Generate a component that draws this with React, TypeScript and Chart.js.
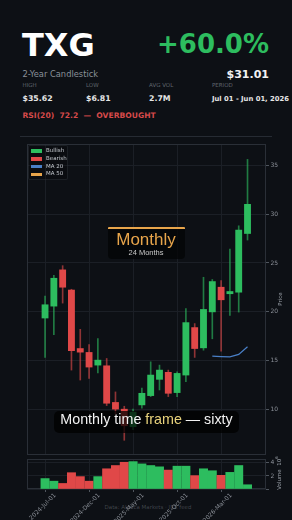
import React, { useEffect, useRef } from 'react';
import { Chart, registerables } from 'chart.js';

Chart.register(...registerables);

// ---------- data ----------
const MONTHS = [
  '2024-Jul-01', '2024-Aug-01', '2024-Sep-01', '2024-Oct-01', '2024-Nov-01', '2024-Dec-01',
  '2025-Jan-01', '2025-Feb-01', '2025-Mar-01', '2025-Apr-01', '2025-May-01', '2025-Jun-01',
  '2025-Jul-01', '2025-Aug-01', '2025-Sep-01', '2025-Oct-01', '2025-Nov-01', '2025-Dec-01',
  '2026-Jan-01', '2026-Feb-01', '2026-Mar-01', '2026-Apr-01', '2026-May-01', '2026-Jun-01',
];
const OPEN = [19.35, 20.57, 24.29, 22.22, 16.22, 15.82, 14.52, 14.45, 10.69, 10.0, 8.2, 10.44,
  11.39, 13.06, 13.78, 11.7, 13.5, 18.37, 16.29, 19.98, 22.51, 21.84, 22.0, 28.02];
const CLOSE = [20.71, 23.43, 22.51, 16.0, 15.85, 14.32, 15.03, 10.61, 10.01, 8.3, 9.7, 11.63,
  13.5, 14.01, 11.63, 13.67, 18.88, 16.22, 20.23, 23.09, 21.22, 22.07, 28.37, 31.01];
const HIGH = [21.59, 23.73, 24.72, 22.3, 18.19, 16.63, 17.24, 15.2, 11.77, 10.3, 10.0, 12.17,
  14.86, 14.52, 14.01, 13.84, 20.31, 18.78, 23.53, 23.3, 23.19, 26.43, 28.81, 35.62];
const LOW = [15.31, 17.65, 20.88, 14.01, 12.99, 13.16, 13.73, 10.37, 9.5, 6.81, 7.9, 10.1,
  11.29, 11.97, 11.29, 11.29, 12.82, 15.31, 16.05, 17.22, 15.95, 19.62, 19.96, 27.35];
const VOLUME_M = [1.6, 1.2, 0.85, 2.5, 1.9, 1.2, 1.9, 3.1, 3.6, 4.1, 4.2, 3.85,
  3.6, 3.4, 2.9, 3.5, 3.5, 2.05, 3.1, 2.8, 2.1, 2.55, 3.6, 0.65];
const MA20_START = 19;
const MA20 = [15.44, 15.4, 15.36, 15.62, 16.41];
const PRICE_TICKS = [10, 15, 20, 25, 30, 35];
const VOLUME_TICKS = [0, 2, 4];
const X_TICKS = [0, 5, 10, 15, 20];
const STAT_LABELS = ['HIGH', 'LOW', 'AVG VOL', 'PERIOD'];
const STAT_VALUES = ['$35.62', '$6.81', '2.7M', 'Jul 01 - Jun 01, 2026'];
const LEGEND_LABELS = ['Bullish', 'Bearish', 'MA 20', 'MA 50'];

// ---------- styles ----------
const BG = '#0d1015';
const GREEN = '#2dbd5f';
const RED = '#e04848';
const GREEN_WICK = 'rgba(45,189,95,0.62)';
const RED_WICK = 'rgba(224,72,72,0.62)';
const BLUE = '#4a80c8';
const ORANGE = '#e8a54b';
const GRID = '#1b1f26';
const FRAME = '#2a2f37';
const TICKMARK = '#50565e';
const TICKTEXT = '#8b9098';
const LEGEND_COLORS = [GREEN, RED, BLUE, ORANGE];
const STAT_X = [22.5, 86, 149, 212];
const STAT_VALUE_SIZE = [7.8, 7.8, 7.8, 6.8];

const X_MIN = -2.05;
const X_MAX = 25.1;

const framePlugin = {
  id: 'frame',
  beforeDatasetsDraw(chart: any) {
    const { ctx, chartArea: a } = chart;
    ctx.save();
    ctx.strokeStyle = FRAME;
    ctx.lineWidth = 1;
    const l = Math.round(a.left) + 0.5;
    const t = Math.round(a.top) + 0.5;
    const r = Math.round(a.right) - 0.5;
    const b = Math.round(a.bottom) - 0.5;
    ctx.strokeRect(l, t, r - l, b - t);
    ctx.restore();
  },
};

const up = (i: number) => CLOSE[i] >= OPEN[i];

function xScale(extra: any): any {
  return {
    type: 'linear',
    offset: false,
    min: X_MIN,
    max: X_MAX,
    afterBuildTicks: (s: any) => { s.ticks = X_TICKS.map((v) => ({ value: v })); },
    grid: { color: GRID, offset: false, tickLength: 3, tickColor: TICKMARK },
    border: { display: false },
    ...extra,
  };
}

function priceConfig(): any {
  const idx = OPEN.map((_, i) => i);
  return {
    type: 'bar',
    data: {
      datasets: [
        {
          type: 'line',
          label: 'MA 20',
          data: MA20.map((v, k) => ({ x: MA20_START + k, y: v })),
          borderColor: BLUE,
          borderWidth: 1.2,
          pointRadius: 0,
          tension: 0,
          order: 0,
        },
        {
          label: 'Body',
          data: idx.map((i) => ({ x: i, y: [OPEN[i], CLOSE[i]] })),
          backgroundColor: idx.map((i) => (up(i) ? GREEN : RED)),
          borderWidth: 0,
          borderSkipped: false,
          barThickness: 6.2,
          grouped: false,
          order: 1,
        },
        {
          label: 'Wick',
          data: idx.map((i) => ({ x: i, y: [LOW[i], HIGH[i]] })),
          backgroundColor: idx.map((i) => (up(i) ? GREEN_WICK : RED_WICK)),
          borderWidth: 0,
          borderSkipped: false,
          barThickness: 1,
          grouped: false,
          order: 2,
        },
      ],
    },
    options: {
      animation: false,
      responsive: false,
      devicePixelRatio: 1,
      layout: { padding: { left: 27, right: 6, top: 6, bottom: 3 } },
      plugins: { legend: { display: false }, tooltip: { enabled: false } },
      scales: {
        x: xScale({
          afterFit: (s: any) => { s.height = 0; s.paddingLeft = 0; s.paddingRight = 0; },
          ticks: { display: false },
          grid: { color: GRID, offset: false, drawTicks: false },
        }),
        y: {
          position: 'right',
          min: 5.3,
          max: 37.2,
          afterBuildTicks: (s: any) => { s.ticks = PRICE_TICKS.map((v) => ({ value: v })); },
          afterFit: (s: any) => { s.width = 20; s.paddingTop = 0; s.paddingBottom = 0; },
          ticks: { color: TICKTEXT, font: { size: 6, family: 'DejaVu Sans' }, padding: 1.5 },
          grid: { color: GRID, tickLength: 3, tickColor: TICKMARK },
          border: { display: false },
        },
      },
    },
    plugins: [framePlugin],
  };
}

function volumeConfig(): any {
  const idx = VOLUME_M.map((_, i) => i);
  return {
    type: 'bar',
    data: {
      datasets: [
        {
          label: 'Volume',
          data: idx.map((i) => ({ x: i, y: VOLUME_M[i] })),
          backgroundColor: idx.map((i) => (up(i) ? GREEN : RED)),
          borderWidth: 0,
          barThickness: 8.3,
        },
      ],
    },
    options: {
      animation: false,
      responsive: false,
      devicePixelRatio: 1,
      layout: { padding: { left: 27, right: 6, top: 3, bottom: 0 } },
      plugins: { legend: { display: false }, tooltip: { enabled: false } },
      scales: {
        x: xScale({
          afterFit: (s: any) => { s.height = 31; s.paddingLeft = 0; s.paddingRight = 0; },
          ticks: {
            autoSkip: false,
            minRotation: 45,
            maxRotation: 45,
            labelOffset: 10,
            padding: 0,
            color: TICKTEXT,
            font: { size: 6, family: 'DejaVu Sans' },
            callback: (v: number) => MONTHS[v] ?? '',
          },
        }),
        y: {
          position: 'right',
          min: 0,
          max: 4.6,
          afterBuildTicks: (s: any) => { s.ticks = VOLUME_TICKS.map((v) => ({ value: v })); },
          afterFit: (s: any) => { s.width = 20; s.paddingTop = 0; s.paddingBottom = 0; },
          ticks: {
            color: TICKTEXT,
            font: { size: 6, family: 'DejaVu Sans' },
            padding: 1.5,
            callback: (v: number) => (v === 0 ? '' : String(v)),
          },
          grid: { color: GRID, tickLength: 3, tickColor: TICKMARK },
          border: { display: false },
        },
      },
    },
    plugins: [framePlugin],
  };
}

const abs = (s: React.CSSProperties): React.CSSProperties => ({
  position: 'absolute',
  whiteSpace: 'pre',
  lineHeight: 1,
  margin: 0,
  ...s,
});

export default function App() {
  const priceRef = useRef<HTMLCanvasElement>(null);
  const volRef = useRef<HTMLCanvasElement>(null);

  useEffect(() => {
    document.body.style.margin = '0';
    document.body.style.background = BG;
    const pc = new Chart(priceRef.current as HTMLCanvasElement, priceConfig());
    const vc = new Chart(volRef.current as HTMLCanvasElement, volumeConfig());
    return () => {
      pc.destroy();
      vc.destroy();
    };
  }, []);

  const sans = 'DejaVu Sans';
  const arial = '"Liberation Sans", Arial, sans-serif';

  return (
    <div
      style={{
        position: 'fixed',
        left: 0,
        top: 0,
        width: 292,
        height: 520,
        overflow: 'hidden',
        background: BG,
        fontFamily: sans,
      }}
    >
      {/* header */}
      <div style={abs({ left: 22, top: 29, fontSize: 32, fontWeight: 700, color: '#ffffff' })}>TXG</div>
      <div style={abs({ right: 23, top: 30.5, fontSize: 26, fontWeight: 700, color: GREEN })}>+60.0%</div>
      <div style={abs({ left: 22.5, top: 70, fontSize: 8.3, color: '#8a9099' })}>2-Year Candlestick</div>
      <div style={abs({ right: 23, top: 69, fontSize: 11, fontWeight: 700, color: '#f2f2f2' })}>$31.01</div>
      {STAT_LABELS.map((t, i) => (
        <div key={t} style={abs({ left: STAT_X[i], top: 82.6, fontSize: 5.5, color: '#60666e' })}>{t}</div>
      ))}
      {STAT_VALUES.map((t, i) => (
        <div
          key={t}
          style={abs({
            left: STAT_X[i],
            top: 101.7 - 0.846 * STAT_VALUE_SIZE[i],
            fontSize: STAT_VALUE_SIZE[i],
            fontWeight: 700,
            color: '#e6e6e6',
          })}
        >
          {t}
        </div>
      ))}
      <div style={abs({ left: 22.5, top: 112.4, fontSize: 7.6, fontWeight: 700, color: '#d64a4a' })}>
        {'RSI(20)  72.2  —  OVERBOUGHT'}
      </div>
      <div style={{ position: 'absolute', left: 20, top: 136, width: 252, height: 1, background: '#262b33' }} />

      {/* footer (behind volume chart) */}
      <div
        style={abs({
          left: 0,
          width: 292,
          textAlign: 'center',
          top: 505,
          fontSize: 5.5,
          color: 'rgba(130,136,144,0.45)',
          paddingLeft: 2,
        })}
      >
        Data: Alpaca Markets · IEX feed
      </div>

      {/* charts */}
      <canvas ref={priceRef} width={292} height={320} style={{ position: 'absolute', left: 0, top: 138, width: 292, height: 320 }} />
      <canvas ref={volRef} width={292} height={64} style={{ position: 'absolute', left: 0, top: 456, width: 292, height: 64 }} />

      {/* axis titles */}
      <div style={abs({ left: 281, top: 299, fontSize: 5.5, color: '#9aa0a8', transform: 'translate(-50%,-50%) rotate(-90deg)' })}>Price</div>
      <div style={abs({ left: 278.5, top: 473, fontSize: 5.5, color: '#9aa0a8', transform: 'translate(-50%,-50%) rotate(-90deg)' })}>
        {'Volume  10'}
        <sup style={{ fontSize: 4, verticalAlign: 'super' }}>6</sup>
      </div>

      {/* legend */}
      <div
        style={{
          position: 'absolute',
          left: 28,
          top: 145,
          width: 40,
          height: 35,
          background: 'rgba(0,0,0,0.22)',
          border: '1px solid rgba(60,66,74,0.35)',
          borderRadius: 2,
          boxSizing: 'border-box',
        }}
      />
      {LEGEND_LABELS.map((t, i) => {
        const cy = [151, 158.8, 166.6, 174.3][i];
        return (
          <React.Fragment key={t}>
            <div style={{ position: 'absolute', left: 30.7, top: cy - 1.8, width: 11.3, height: 3.6, background: LEGEND_COLORS[i] }} />
            <div style={abs({ left: 46, top: cy - 2.9, fontSize: 5.5, color: '#c5c9cf' })}>{t}</div>
          </React.Fragment>
        );
      })}

      {/* Monthly badge */}
      <div
        style={{
          position: 'absolute',
          left: 107.5,
          top: 227,
          width: 77,
          height: 32,
          background: 'rgba(4,5,7,0.78)',
          borderTop: `2.5px solid ${ORANGE}`,
          borderRadius: '1px 1px 4px 4px',
          boxSizing: 'border-box',
        }}
      />
      <div style={abs({ left: 107.5, width: 77, textAlign: 'center', top: 231.3, fontSize: 17, fontFamily: arial, color: ORANGE })}>Monthly</div>
      <div style={abs({ left: 107.5, width: 77, textAlign: 'center', top: 248.6, fontSize: 7.5, fontFamily: arial, color: '#c8c8c8' })}>24 Months</div>

      {/* caption */}
      <div
        style={{
          position: 'absolute',
          left: 54,
          top: 410.5,
          width: 185,
          height: 22.5,
          background: 'rgba(0,0,0,0.74)',
          borderRadius: 5,
        }}
      />
      <div style={abs({ left: 54, width: 185, textAlign: 'center', top: 412.2, fontSize: 14.3, fontFamily: arial, color: '#f2f2f2' })}>
        {'Monthly time '}
        <span style={{ color: '#e9d37c' }}>frame</span>
        {' — sixty'}
      </div>
    </div>
  );
}
